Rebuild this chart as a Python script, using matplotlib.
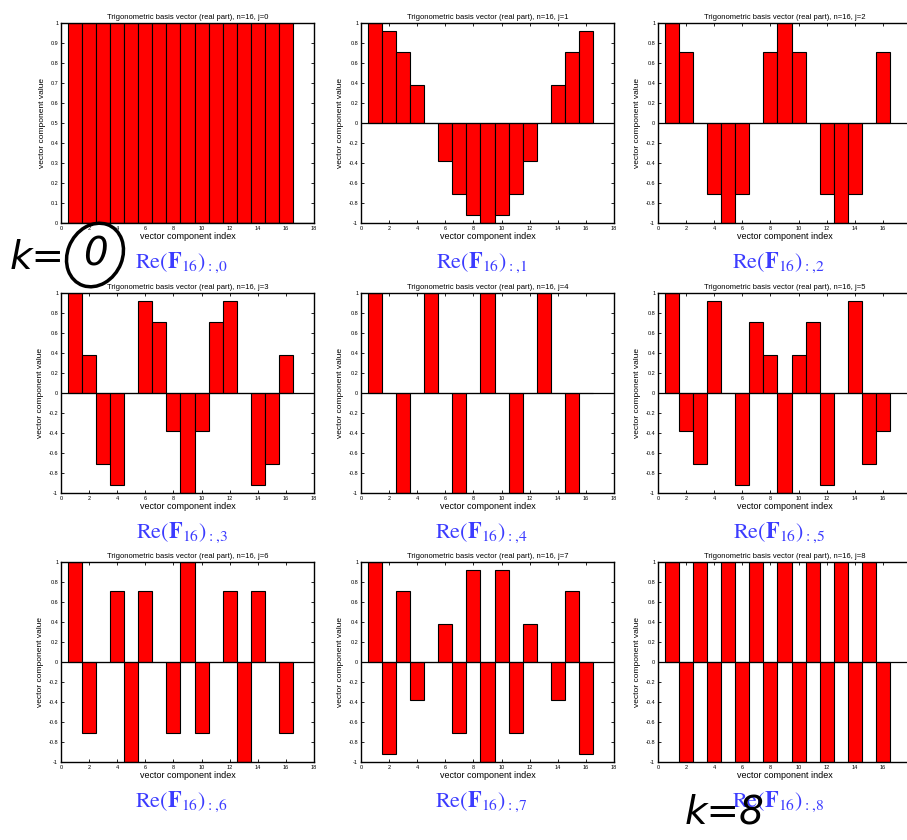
import matplotlib
matplotlib.use("Agg")
import matplotlib.pyplot as plt
from matplotlib.patches import Ellipse

plt.rcParams['font.family'] = ['Liberation Sans', 'DejaVu Sans']
plt.rcParams['mathtext.fontset'] = 'stix'

indices = list(range(1, 17))
basis_j = [0, 1, 2, 3, 4, 5, 6, 7, 8]

re_j0 = [1, 1, 1, 1, 1, 1, 1, 1, 1, 1, 1, 1, 1, 1, 1, 1]
re_j1 = [1, 0.9239, 0.7071, 0.3827, 0, -0.3827, -0.7071, -0.9239,
         -1, -0.9239, -0.7071, -0.3827, 0, 0.3827, 0.7071, 0.9239]
re_j2 = [1, 0.7071, 0, -0.7071, -1, -0.7071, 0, 0.7071,
         1, 0.7071, 0, -0.7071, -1, -0.7071, 0, 0.7071]
re_j3 = [1, 0.3827, -0.7071, -0.9239, 0, 0.9239, 0.7071, -0.3827,
         -1, -0.3827, 0.7071, 0.9239, 0, -0.9239, -0.7071, 0.3827]
re_j4 = [1, 0, -1, 0, 1, 0, -1, 0, 1, 0, -1, 0, 1, 0, -1, 0]
re_j5 = [1, -0.3827, -0.7071, 0.9239, 0, -0.9239, 0.7071, 0.3827,
         -1, 0.3827, 0.7071, -0.9239, 0, 0.9239, -0.7071, -0.3827]
re_j6 = [1, -0.7071, 0, 0.7071, -1, 0.7071, 0, -0.7071,
         1, -0.7071, 0, 0.7071, -1, 0.7071, 0, -0.7071]
re_j7 = [1, -0.9239, 0.7071, -0.3827, 0, 0.3827, -0.7071, 0.9239,
         -1, 0.9239, -0.7071, 0.3827, 0, -0.3827, 0.7071, -0.9239]
re_j8 = [1, -1, 1, -1, 1, -1, 1, -1, 1, -1, 1, -1, 1, -1, 1, -1]
series = [re_j0, re_j1, re_j2, re_j3, re_j4, re_j5, re_j6, re_j7, re_j8]

xticks = [0, 2, 4, 6, 8, 10, 12, 14, 16, 18]
yticks_pos = [0, 0.1, 0.2, 0.3, 0.4, 0.5, 0.6, 0.7, 0.8, 0.9, 1]
yticks_full = [-1, -0.8, -0.6, -0.4, -0.2, 0, 0.2, 0.4, 0.6, 0.8, 1]

W, H = 907, 840
fig = plt.figure(figsize=(W / 100, H / 100), dpi=100)

col_left = [61, 361, 658]
col_width = 253
row_top = [23, 293, 562]
row_height = 200


def fmt(v):
    return '%g' % v


for idx, j in enumerate(basis_j):
    r, c = divmod(idx, 3)
    l = col_left[c]
    t = row_top[r]
    ax = fig.add_axes([l / W, 1 - (t + row_height) / H, col_width / W, row_height / H])
    vals = series[idx]
    ax.bar(indices, vals, width=1.0, color='#ff0000', edgecolor='black', linewidth=0.8, zorder=2)
    ax.axhline(0, color='black', linewidth=0.9, zorder=3)
    ax.set_xlim(0, 18)
    ax.set_xticks(xticks)
    labels = [str(x) for x in xticks]
    if c == 2:
        labels[-1] = ''
    ax.set_xticklabels(labels)
    if j == 0:
        ax.set_ylim(0, 1)
        ax.set_yticks(yticks_pos)
        ax.set_yticklabels([fmt(v) for v in yticks_pos])
    else:
        ax.set_ylim(-1, 1)
        ax.set_yticks(yticks_full)
        ax.set_yticklabels([fmt(v) for v in yticks_full])
    ax.tick_params(direction='in', length=2.5, width=0.6, labelsize=4, pad=2,
                   top=True, right=True)
    for sp in ax.spines.values():
        sp.set_linewidth(1.0)
    ax.set_title('Trigonometric basis vector (real part), n=16, j=%d' % j,
                 fontsize=5.5, pad=3)
    ax.set_xlabel('vector component index', fontsize=6.5, labelpad=1)
    ax.set_ylabel('vector component value', fontsize=6, labelpad=3)

    cx = (l + col_width / 2 - 6) / W
    cy = 1 - (t + row_height + 40) / H
    fig.text(cx, cy, r'$\mathrm{Re}(\mathbf{F}_{16})_{:{,}%d}$' % j,
             color='#3c3cff', fontsize=16, ha='center', va='center')

# handwritten annotations
fig.text(10 / W, 1 - 258 / H, 'k=', fontsize=28, color='black',
         ha='left', va='center', family=['DejaVu Sans'], style='italic')
fig.text(95 / W, 1 - 255 / H, '0', fontsize=28, color='black',
         ha='center', va='center', family=['DejaVu Sans'], style='italic')
fig.add_artist(Ellipse((95 / W, 1 - 255 / H), 55 / W, 65 / H, angle=-20,
                       fill=False, edgecolor='black', linewidth=2.5,
                       transform=fig.transFigure))
fig.text(685 / W, 1 - 812 / H, 'k=8', fontsize=28, color='black',
         ha='left', va='center', family=['DejaVu Sans'], style='italic')

fig.savefig('out.png', dpi=100)
